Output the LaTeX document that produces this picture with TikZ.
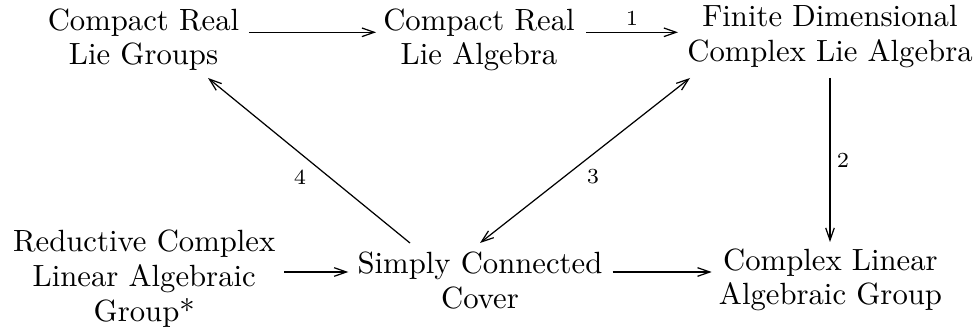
\documentclass[tikz,border=0pt]{standalone}
\usetikzlibrary{arrows.meta,calc}
\begin{document}
\begin{tikzpicture}[x=0.32573pt,y=0.32573pt,
  tip/.tip={Straight Barb[length=4pt,width=2.8pt,line width=0.4pt]},
  txt/.style={align=center, inner sep=0pt, anchor=base, font=\fontsize{10pt}{11.4pt}\selectfont},
  arr/.style={-tip, line width=0.4pt},
  darr/.style={tip-tip, line width=0.4pt},
  lab/.style={font=\fontsize{7pt}{8pt}\selectfont, inner sep=0pt}]
\useasboundingbox (0,0) rectangle (979,330);
% base anchor = baseline of the last line
\node[txt] (A) at (143.5,265) {Compact Real\\Lie Groups};
\node[txt] (B) at (479,265) {Compact Real\\Lie Algebra};
\node[txt] (C) at (830,268.3) {Finite Dimensional\\Complex Lie Algebra};
\node[txt] (D) at (144.2,8.3) {Reductive Complex\\Linear Algebraic\\Group*};
\node[txt] (E) at (480,21.7) {Simply Connected\\Cover};
\node[txt] (F) at (830.5,25) {Complex Linear\\Algebraic Group};
% top row
\draw[arr] ($(A.east |- A.base)+(9,32.7)$) -- ($(B.west |- A.base)+(-6.6,32.7)$);
\draw[arr] ($(B.east |- B.base)+(10.7,32.7)$) -- ($(C.west |- B.base)+(-8.7,32.7)$)
  node[lab, midway, yshift=4.6pt] {1};
% vertical
\draw[arr] ($(C.base)+(0,-16.3)$) -- ($(F.base)+(-0.5,63)$)
  node[lab, midway, xshift=4.2pt] {2};
% diagonals
\draw[darr] ($(E.base)+(0,65.3)$) -- ($(C.base)+(-140,-16.3)$)
  node[lab, midway, xshift=2.6pt, yshift=-5.4pt] {3};
\draw[arr] ($(E.base)+(-70,65.3)$) -- ($(A.base)+(64.5,-13)$)
  node[lab, midway, xshift=-2.9pt, yshift=-5.4pt] {4};
% bottom row
\draw[arr] ($(D.east |- E.base)+(8.3,36.3)$) -- ($(E.west |- E.base)+(-8.7,36.3)$);
\draw[arr] ($(E.east |- E.base)+(9.7,36.3)$) -- ($(F.west |- E.base)+(-6.7,36.3)$);
\end{tikzpicture}
\end{document}
